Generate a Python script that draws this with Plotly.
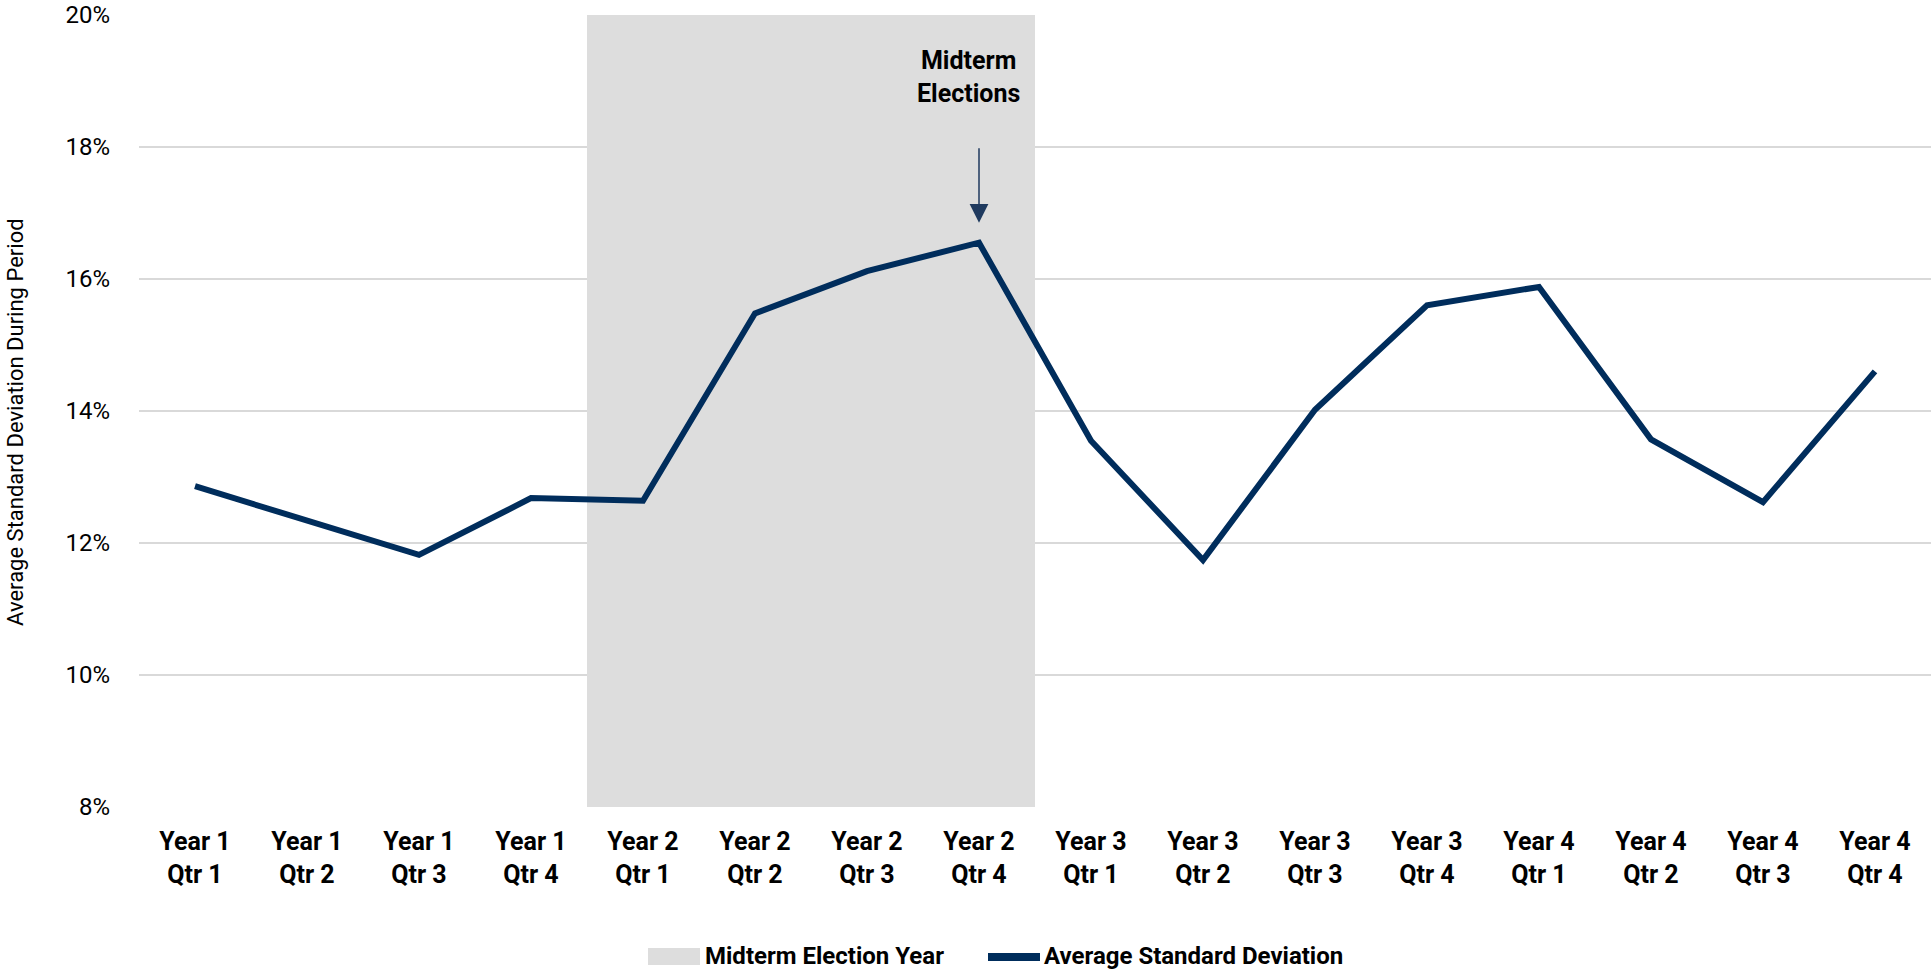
import plotly.graph_objects as go

categories = ["Year 1<br>Qtr 1", "Year 1<br>Qtr 2", "Year 1<br>Qtr 3", "Year 1<br>Qtr 4",
              "Year 2<br>Qtr 1", "Year 2<br>Qtr 2", "Year 2<br>Qtr 3", "Year 2<br>Qtr 4",
              "Year 3<br>Qtr 1", "Year 3<br>Qtr 2", "Year 3<br>Qtr 3", "Year 3<br>Qtr 4",
              "Year 4<br>Qtr 1", "Year 4<br>Qtr 2", "Year 4<br>Qtr 3", "Year 4<br>Qtr 4"]
avg_std = [12.86, 12.34, 11.82, 12.68, 12.64, 15.48, 16.12, 16.55,
           13.55, 11.74, 14.02, 15.60, 15.88, 13.57, 12.62, 14.60]
midterm_idx = [4, 5, 6, 7]
y_min, y_max = 8, 20
annot_idx = 7
legend_names = ["Midterm Election Year", "Average Standard Deviation"]

FONT = "Roboto, Liberation Sans, sans-serif"
NAVY = "#002D5C"
GRAY = "#DDDDDD"
x = list(range(len(categories)))

# plot area geometry (pixels) used to place the manual legend
L, T, B = 139, 15, 807
PW, PH = 1931 - L, B - T

def px_x(v):
    return (v - L) / PW

def px_y(v):
    return (B - v) / PH

fig = go.Figure()
fig.add_trace(go.Bar(
    x=midterm_idx, y=[y_max - y_min] * len(midterm_idx), base=y_min, width=1,
    marker=dict(color=GRAY, line=dict(width=0)),
    name=legend_names[0], hoverinfo="skip", showlegend=False))
fig.add_trace(go.Scatter(
    x=x, y=avg_std, mode="lines",
    line=dict(color=NAVY, width=6),
    name=legend_names[1], showlegend=False))

# arrow and label
fig.add_annotation(x=annot_idx, y=avg_std[annot_idx], text="", showarrow=True,
                   ax=0, ay=-96, axref="pixel", ayref="pixel",
                   arrowhead=2, arrowsize=2.5, arrowwidth=1.5, arrowcolor="#1F3A5F",
                   standoff=20)
fig.add_annotation(x=annot_idx, y=19.56, text="<b>Midterm<br>Elections</b>", showarrow=False,
                   xanchor="center", yanchor="top", xshift=-11,
                   font=dict(size=25, color="#000000", family=FONT), align="center")

# y-axis title as annotation
fig.add_annotation(xref="paper", yref="paper", x=0, y=0.485, xshift=-123,
                   text="Average Standard Deviation During Period", textangle=-90,
                   showarrow=False, xanchor="center", yanchor="middle",
                   font=dict(size=22, family=FONT, color="#000000"))

# manual legend (bottom)
leg_y = 956
fig.add_shape(type="rect", xref="paper", yref="paper",
              x0=px_x(648), x1=px_x(700), y0=px_y(965), y1=px_y(948),
              fillcolor=GRAY, line=dict(width=0))
fig.add_annotation(xref="paper", yref="paper", x=px_x(703), y=px_y(leg_y),
                   text="<b>" + legend_names[0] + "</b>", showarrow=False,
                   xanchor="left", yanchor="middle",
                   font=dict(size=24, family=FONT, color="#000000"))
fig.add_shape(type="line", xref="paper", yref="paper",
              x0=px_x(988), x1=px_x(1040), y0=px_y(957), y1=px_y(957),
              line=dict(color=NAVY, width=8))
fig.add_annotation(xref="paper", yref="paper", x=px_x(1042), y=px_y(leg_y),
                   text="<b>" + legend_names[1] + "</b>", showarrow=False,
                   xanchor="left", yanchor="middle",
                   font=dict(size=24, family=FONT, color="#000000"))

fig.update_layout(
    width=1931, height=970,
    margin=dict(l=L, r=0, t=T, b=970 - B, autoexpand=False),
    paper_bgcolor="white", plot_bgcolor="white",
    font=dict(family=FONT, color="#000000"),
    showlegend=False,
    bargap=0,
)
fig.update_xaxes(tickvals=x, ticktext=["<b>" + c + "</b>" for c in categories],
                 range=[-0.5, len(categories) - 0.5], showgrid=False, zeroline=False,
                 showline=False, tickfont=dict(size=25, family=FONT), ticks="",
                 ticklabelstandoff=17, automargin=False)
fig.update_yaxes(range=[y_min, y_max], dtick=2, ticksuffix="%", showgrid=True,
                 gridcolor="#D9D9D9", gridwidth=1.5, zeroline=False, showline=False,
                 tickfont=dict(size=24, family=FONT), ticks="", ticklabelstandoff=28,
                 automargin=False)

fig.write_html("out.html", post_script="document.body.style.margin='0px';",
               config={"displayModeBar": False})
